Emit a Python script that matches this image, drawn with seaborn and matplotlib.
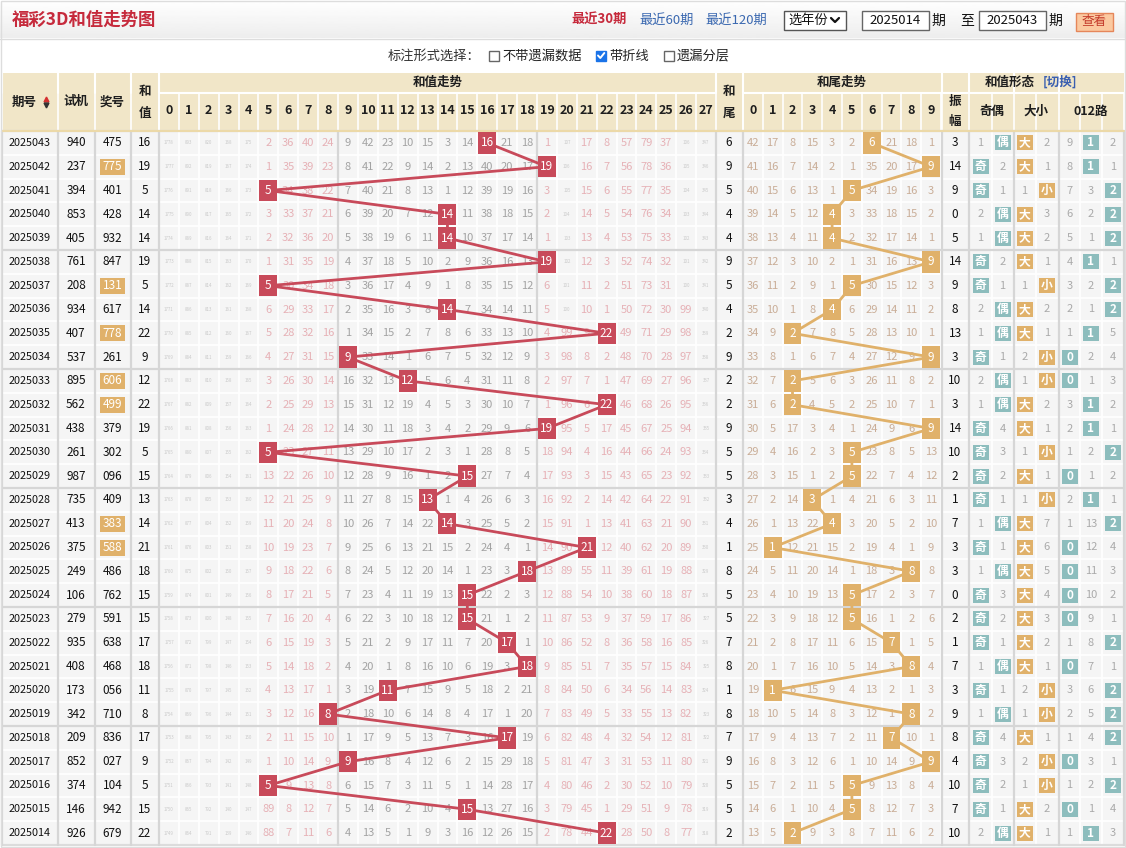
import numpy as np
import pandas as pd
import matplotlib
matplotlib.use("Agg")
import matplotlib.pyplot as plt
import seaborn as sns
from matplotlib.patches import Rectangle

# ---------------- data ----------------
issues = ["2025043", "2025042", "2025041", "2025040", "2025039", "2025038", "2025037", "2025036",
          "2025035", "2025034", "2025033", "2025032", "2025031", "2025030", "2025029", "2025028",
          "2025027", "2025026", "2025025", "2025024", "2025023", "2025022", "2025021", "2025020",
          "2025019", "2025018", "2025017", "2025016", "2025015", "2025014"]
trial = ["940", "237", "394", "853", "405", "761", "208", "934", "407", "537", "895", "562", "438",
         "261", "987", "735", "413", "375", "249", "106", "279", "935", "408", "173", "342", "209",
         "852", "374", "146", "926"]
winning = ["475", "775", "401", "428", "932", "847", "131", "617", "778", "261", "606", "499", "379",
           "302", "096", "409", "383", "588", "486", "762", "591", "638", "468", "056", "710", "836",
           "027", "104", "942", "679"]
sums = [16, 19, 5, 14, 14, 19, 5, 14, 22, 9, 12, 22, 19, 5, 15, 13, 14, 21, 18, 15, 15, 17, 18, 11,
        8, 17, 9, 5, 15, 22]
amplitude = [3, 14, 9, 0, 5, 14, 9, 8, 13, 3, 10, 3, 14, 10, 2, 1, 7, 3, 3, 0, 2, 1, 7, 3, 9, 8, 4,
             10, 7, 10]
# omission values shown on the earliest row (2025014)
sum_miss_start = [1749, 864, 791, 139, 146, 88, 7, 11, 6, 4, 13, 5, 1, 9, 3, 16, 12, 26, 15, 2, 78,
                  44, 0, 28, 50, 8, 77, 318]
tail_miss_start = [13, 5, 0, 9, 3, 8, 7, 11, 6, 2]
oe_miss_start = [2, 0]
bs_miss_start = [0, 1]
r012_miss_start = [1, 0, 3]

sum_labels = [str(i) for i in range(28)]
tail_labels = [str(i) for i in range(10)]

# ---------------- derived tables ----------------
N = len(issues)
tails = [s % 10 for s in sums]


def omissions(start, hits, ncol):
    res = [None] * N
    cur = list(start)
    res[N - 1] = list(cur)
    for r in range(N - 2, -1, -1):
        cur = [0 if hits[r] == k else cur[k] + 1 for k in range(ncol)]
        res[r] = list(cur)
    return res


sum_miss = omissions(sum_miss_start, sums, 28)
tail_miss = omissions(tail_miss_start, tails, 10)
oe_hit = [0 if s % 2 else 1 for s in sums]
bs_hit = [0 if s >= 14 else 1 for s in sums]
r012_hit = [s % 3 for s in sums]
oe_miss = omissions(oe_miss_start, oe_hit, 2)
bs_miss = omissions(bs_miss_start, bs_hit, 2)
r012_miss = omissions(r012_miss_start, r012_hit, 3)

# ---------------- style ----------------
sns.set_theme(style="white")
plt.rcParams["font.family"] = ["Noto Sans CJK SC", "DejaVu Sans"]

W, H = 1126, 848
fig = plt.figure(figsize=(W / 100, H / 100), dpi=100)
fig.patch.set_facecolor("white")
ax = fig.add_axes([0, 0, 1, 1])
ax.set_xlim(0, W)
ax.set_ylim(H, 0)
ax.axis("off")

RED = "#c84a5a"
TAN = "#e0b16a"
TEAL = "#8dbdbd"
HEAD = "#f1e6c8"
CELL = "#f5f5f5"
SEP = "#d6d6d6"

TOP = 131.0
RH = 23.8
BOT = TOP + RH * N

# column geometry
X_SUM0, X_SUM1 = 159.0, 716.0
X_TAIL0, X_TAIL1 = 743.0, 941.0
sw = (X_SUM1 - X_SUM0) / 28
tw = (X_TAIL1 - X_TAIL0) / 10


def rc(i):
    return TOP + RH * (i + 0.5)


# ---------------- title bar ----------------
grad = np.linspace(1.0, 0.93, 50).reshape(-1, 1)
ax.imshow(grad, extent=[0, W, 38, 0], cmap="gray", vmin=0, vmax=1, aspect="auto", zorder=0)
ax.plot([0, W], [38.5, 38.5], color="#dddddd", lw=1)
ax.text(12, 20, "福彩3D和值走势图", color="#c62a3c", fontsize=12.5, fontweight="bold", va="center")
ax.text(571, 20, "最近30期", color="#c62a3c", fontsize=9.5, fontweight="bold", va="center")
ax.text(639, 20, "最近60期", color="#3a68b0", fontsize=9.5, va="center")
ax.text(705, 20, "最近120期", color="#3a68b0", fontsize=9.5, va="center")
ax.add_patch(Rectangle((784, 11), 62, 19, facecolor="white", edgecolor="#555555", lw=1))
ax.text(788, 20.5, "选年份", fontsize=9.5, va="center", color="#111111")
ax.plot([831, 835, 839], [18, 22, 18], color="#111111", lw=1.6)
for x0, txt in [(862, "2025014"), (979, "2025043")]:
    ax.add_patch(Rectangle((x0, 11), 67, 19, facecolor="white", edgecolor="#666666", lw=1))
    ax.text(x0 + 33.5, 20.5, txt, fontsize=9.5, ha="center", va="center", color="#111111")
ax.text(938, 20.5, "期", fontsize=10, ha="center", va="center", color="#111111")
ax.text(967, 20.5, "至", fontsize=10, ha="center", va="center", color="#111111")
ax.text(1055, 20.5, "期", fontsize=10, ha="center", va="center", color="#111111")
ax.add_patch(Rectangle((1076, 12.5), 37, 18, facecolor="#fbc9a0", edgecolor="#e5865a", lw=1))
ax.text(1094.5, 21.5, "查看", fontsize=9, ha="center", va="center", color="#c43a2a")

# ---------------- controls row ----------------
ax.text(388, 56, "标注形式选择：", fontsize=9.5, va="center", color="#333333")
for bx, lab, checked in [(489, "不带遗漏数据", False), (596, "带折线", True), (664, "遗漏分层", False)]:
    ax.add_patch(Rectangle((bx, 50.5), 10, 10, facecolor="#1a73e8" if checked else "white",
                           edgecolor="#1a73e8" if checked else "#666666", lw=1, zorder=2))
    if checked:
        ax.plot([bx + 2, bx + 4.3, bx + 8.3], [55.5, 58, 53], color="white", lw=1.4, zorder=3)
    ax.text(bx + 13, 56, lab, fontsize=9.5, va="center", color="#222222")

# ---------------- header ----------------
ax.add_patch(Rectangle((2, 73), 1122, TOP - 73, facecolor=HEAD, edgecolor="none", zorder=0.5))
ax.add_patch(Rectangle((2, TOP), 1122, BOT - TOP, facecolor=CELL, edgecolor="none", zorder=0.5))

left_edges = [2, 57.5, 94.5, 130.5, 158.5]
sum_edges = [X_SUM0 + sw * k for k in range(29)]
tail_edges = [X_TAIL0 + tw * k for k in range(11)]
form_edges = [941.5, 969, 991.5, 1013.5, 1036, 1058.5, 1080, 1102, 1124]
all_edges = left_edges + sum_edges + [742.5] + tail_edges + form_edges
group_edges = [2, 57.5, 94.5, 130.5, 158.5, sum_edges[9], sum_edges[19], 716, 742.5, 941.5,
               969, 1013.5, 1058.5, 1124]

# white grid inside header/table
for xe in all_edges:
    ax.plot([xe, xe], [93, BOT], color="white", lw=1.2, zorder=1)
for xe in left_edges + [716, 742.5, 941.5, 969, 1013.5, 1058.5]:
    ax.plot([xe, xe], [73, 93], color="white", lw=1.5, zorder=1)
ax.plot([158.5, 716], [93, 93], color="white", lw=1.5, zorder=1)
ax.plot([742.5, 1124], [93, 93], color="white", lw=1.5, zorder=1)
for i in range(N + 1):
    y = TOP + RH * i
    ax.plot([2, 1124], [y, y], color="white", lw=1.2, zorder=1)
for i in range(0, N + 1, 5):
    y = TOP + RH * i
    ax.plot([2, 1124], [y, y], color=SEP if 0 < i < N else "#dcdcdc", lw=1.6, zorder=1.2)
ax.plot([2, 1124], [TOP, TOP], color="#ecd9a8", lw=1.5, zorder=1.3)
for xe in group_edges:
    ax.plot([xe, xe], [TOP, BOT], color=SEP, lw=1.6, zorder=1.2)

hk = dict(fontsize=9, fontweight="bold", ha="center", va="center", color="#1e1e1e", zorder=3)
ax.text(24, 102, "期号", **hk)
ax.plot([46], [99], marker="^", ms=3.5, color="#d43030", zorder=3)
ax.plot([46], [104.5], marker="v", ms=3.5, color="#333333", zorder=3)
ax.text(76, 102, "试机", **hk)
ax.text(112.5, 102, "奖号", **hk)
ax.text(144.5, 91, "和", **hk)
ax.text(144.5, 113, "值", **hk)
ax.text((X_SUM0 + X_SUM1) / 2, 82.5, "和值走势", **hk)
for k, lab in enumerate(sum_labels):
    ax.text(X_SUM0 + sw * (k + 0.5), 111, lab, **hk)
ax.text(729, 91, "和", **hk)
ax.text(729, 113, "尾", **hk)
ax.text((X_TAIL0 + X_TAIL1) / 2, 82.5, "和尾走势", **hk)
for k, lab in enumerate(tail_labels):
    ax.text(X_TAIL0 + tw * (k + 0.5), 111, lab, **hk)
ax.text(1010, 82.5, "和值形态", **hk)
ax.text(1060, 82.5, "[切换]", fontsize=9, fontweight="bold", ha="center", va="center",
        color="#3a5fb0", zorder=3)
ax.text(955, 101, "振", **hk)
ax.text(955, 121, "幅", **hk)
ax.text(991.5, 111, "奇偶", **hk)
ax.text(1036, 111, "大小", **hk)
ax.text(1091, 111, "012路", **hk)

# ---------------- left columns ----------------
for i in range(N):
    y = rc(i)
    ax.text(30, y, issues[i], fontsize=7.8, ha="center", va="center", color="#111111", zorder=3)
    ax.text(76, y, trial[i], fontsize=8.5, ha="center", va="center", color="#111111", zorder=3)
    num = winning[i]
    group3 = len(set(num)) == 2
    if group3:
        ax.add_patch(Rectangle((100, y - 8), 25, 16, facecolor=TAN, edgecolor="none", zorder=2))
    ax.text(112.5, y, num, fontsize=8.5, ha="center", va="center",
            color="white" if group3 else "#111111", zorder=3)
    ax.text(144.5, y, str(sums[i]), fontsize=8.5, ha="center", va="center", color="#111111", zorder=3)
    ax.text(729, y, str(tails[i]), fontsize=8.5, ha="center", va="center", color="#111111", zorder=3)
    ax.text(955, y, str(amplitude[i]), fontsize=8.5, ha="center", va="center", color="#111111", zorder=3)

# ---------------- formation columns ----------------
form_groups = [
    (["奇", "偶"], [980.5, 1002.5], oe_hit, oe_miss, [TEAL, TEAL]),
    (["大", "小"], [1024.5, 1047], bs_hit, bs_miss, [TAN, TAN]),
    (["0", "1", "2"], [1069.5, 1091, 1113], r012_hit, r012_miss, [TEAL, TEAL, TEAL]),
]
for labs, xs, hits, miss, cols in form_groups:
    for i in range(N):
        y = rc(i)
        for k, lab in enumerate(labs):
            if hits[i] == k:
                ax.add_patch(Rectangle((xs[k] - 8, y - 7.5), 16, 15, facecolor=cols[k],
                                       edgecolor="none", zorder=2))
                ax.text(xs[k], y, lab, fontsize=8.5, fontweight="bold", ha="center", va="center",
                        color="white", zorder=3)
            else:
                ax.text(xs[k], y, str(miss[i][k]), fontsize=8, ha="center", va="center",
                        color="#aaaaaa", zorder=3)


# ---------------- trend panels ----------------
def panel(x0, x1, ncol):
    a = fig.add_axes([x0 / W, 1 - BOT / H, (x1 - x0) / W, (BOT - TOP) / H])
    a.set_xlim(-0.5, ncol - 0.5)
    a.set_ylim(N - 0.5, -0.5)
    a.patch.set_alpha(0)
    a.axis("off")
    return a


rows = np.arange(N)

ax_s = panel(X_SUM0, X_SUM1, 28)
for i in range(N):
    for k in range(28):
        if sums[i] == k:
            continue
        v = sum_miss[i][k]
        if v >= 100:
            ax_s.text(k, i, str(v), fontsize=3.2, ha="center", va="center", color="#c9c9c9", zorder=1)
        else:
            c = "#a3a3a3" if 9 <= k <= 18 else "#e6b1b6"
            ax_s.text(k, i, str(v), fontsize=8, ha="center", va="center", color=c, zorder=1)
df_s = pd.DataFrame({"col": sums, "row": rows})
sns.lineplot(data=df_s, x="col", y="row", sort=False, estimator=None, color=RED, lw=2,
             ax=ax_s, zorder=2)
for i in range(N):
    ax_s.add_patch(Rectangle((sums[i] - 0.45, i - 0.45), 0.9, 0.9, facecolor=RED,
                             edgecolor="none", zorder=3))
    ax_s.text(sums[i], i, str(sums[i]), fontsize=8.5, ha="center", va="center", color="white", zorder=4)
ax_s.set_xlim(-0.5, 27.5)
ax_s.set_ylim(N - 0.5, -0.5)
ax_s.axis("off")

ax_t = panel(X_TAIL0, X_TAIL1, 10)
for i in range(N):
    for k in range(10):
        if tails[i] == k:
            continue
        ax_t.text(k, i, str(tail_miss[i][k]), fontsize=8, ha="center", va="center",
                  color="#c9ad97", zorder=1)
df_t = pd.DataFrame({"col": tails, "row": rows})
sns.lineplot(data=df_t, x="col", y="row", sort=False, estimator=None, color=TAN, lw=2,
             ax=ax_t, zorder=2)
for i in range(N):
    ax_t.add_patch(Rectangle((tails[i] - 0.45, i - 0.45), 0.9, 0.9, facecolor=TAN,
                             edgecolor="none", zorder=3))
    ax_t.text(tails[i], i, str(tails[i]), fontsize=8.5, ha="center", va="center", color="white", zorder=4)
ax_t.set_xlim(-0.5, 9.5)
ax_t.set_ylim(N - 0.5, -0.5)
ax_t.axis("off")

# outer frame
ax.add_patch(Rectangle((1, 1), W - 2, H - 2, facecolor="none", edgecolor="#dddddd", lw=1, zorder=5))

fig.savefig("out.png", dpi=100)
